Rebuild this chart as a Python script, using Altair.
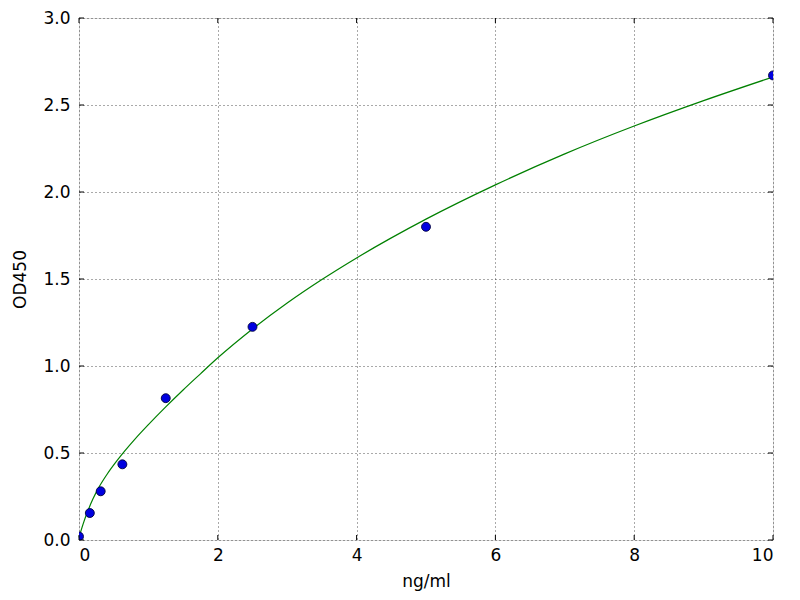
import altair as alt
import pandas as pd

# Standard points
conc = [0, 0.156, 0.3125, 0.625, 1.25, 2.5, 5, 10]
od = [0.02, 0.155, 0.28, 0.435, 0.815, 1.225, 1.80, 2.67]

# Fitted curve
curve_x = [0, 0.06, 0.12, 0.2, 0.28, 0.4, 0.55, 0.66, 0.8, 1.0, 1.25, 1.5, 1.75,
           2.0, 2.5, 3, 3.5, 4, 5, 6, 7, 8, 9, 10]
curve_y = [0.015, 0.093, 0.159, 0.235, 0.298, 0.375, 0.457, 0.512, 0.577, 0.663,
           0.765, 0.862, 0.955, 1.047, 1.213, 1.362, 1.497, 1.621, 1.844, 2.041,
           2.219, 2.379, 2.525, 2.661]

x_ticks = [0, 2, 4, 6, 8, 10]
y_ticks = [0.0, 0.5, 1.0, 1.5, 2.0, 2.5, 3.0]

W, H = 694, 522
FONT = "DejaVu Sans"
FS = 17

pts = pd.DataFrame({"x": conc, "y": od})
crv = pd.DataFrame({"x": curve_x, "y": curve_y})
xt = pd.DataFrame({"t": x_ticks})
yt = pd.DataFrame({"t": y_ticks})

xscale = alt.Scale(domain=[0, 10], nice=False, zero=False)
yscale = alt.Scale(domain=[0, 3], nice=False, zero=False)

xaxis = alt.Axis(values=x_ticks, format="d", title="ng/ml", grid=True,
                 gridColor="black", gridDash=[1, 3], gridWidth=0.8, gridOpacity=0.85,
                 ticks=False, tickSize=0, domain=False, labelPadding=7,
                 labelFont=FONT, labelFontSize=FS, labelColor="black",
                 titleFont=FONT, titleFontSize=FS, titleFontWeight="normal",
                 titleColor="black", titlePadding=10)
yaxis = alt.Axis(values=y_ticks, format=".1f", title="OD450", grid=True,
                 gridColor="black", gridDash=[1, 3], gridWidth=0.8, gridOpacity=0.85,
                 ticks=False, tickSize=0, domain=False, labelPadding=9,
                 labelFont=FONT, labelFontSize=FS, labelColor="black",
                 titleFont=FONT, titleFontSize=FS, titleFontWeight="normal",
                 titleColor="black", titlePadding=13)

base_axes = alt.Chart(crv).mark_line(opacity=0).encode(
    x=alt.X("x:Q", scale=xscale, axis=xaxis),
    y=alt.Y("y:Q", scale=yscale, axis=yaxis),
)

line = alt.Chart(crv).mark_line(color="#008000", strokeWidth=1.2, interpolate="monotone").encode(
    x=alt.X("x:Q", scale=xscale),
    y=alt.Y("y:Q", scale=yscale),
)

points = alt.Chart(pts).mark_point(filled=True, fill="#0000e0", stroke="#000040",
                                   strokeWidth=0.9, size=80, opacity=1, clip=True).encode(
    x=alt.X("x:Q", scale=xscale),
    y=alt.Y("y:Q", scale=yscale),
)

tick_len = 5
xt_bottom = alt.Chart(xt).mark_rule(color="black", strokeWidth=1).encode(
    x=alt.X("t:Q", scale=xscale), y=alt.value(H), y2=alt.value(H - tick_len))
xt_top = alt.Chart(xt).mark_rule(color="black", strokeWidth=1).encode(
    x=alt.X("t:Q", scale=xscale), y=alt.value(0), y2=alt.value(tick_len))
yt_left = alt.Chart(yt).mark_rule(color="black", strokeWidth=1).encode(
    y=alt.Y("t:Q", scale=yscale), x=alt.value(0), x2=alt.value(tick_len))
yt_right = alt.Chart(yt).mark_rule(color="black", strokeWidth=1).encode(
    y=alt.Y("t:Q", scale=yscale), x=alt.value(W), x2=alt.value(W - tick_len))

chart = alt.layer(base_axes, line, points, xt_bottom, xt_top, yt_left, yt_right).properties(
    width=W, height=H,
    autosize=alt.AutoSizeParams(type="none"),
    padding={"left": 71, "top": 10, "right": 19, "bottom": 56},
).configure_view(stroke="black", strokeWidth=1.2).configure(background="white")

chart.save("out.html", embed_options={"renderer": "svg", "actions": False})
